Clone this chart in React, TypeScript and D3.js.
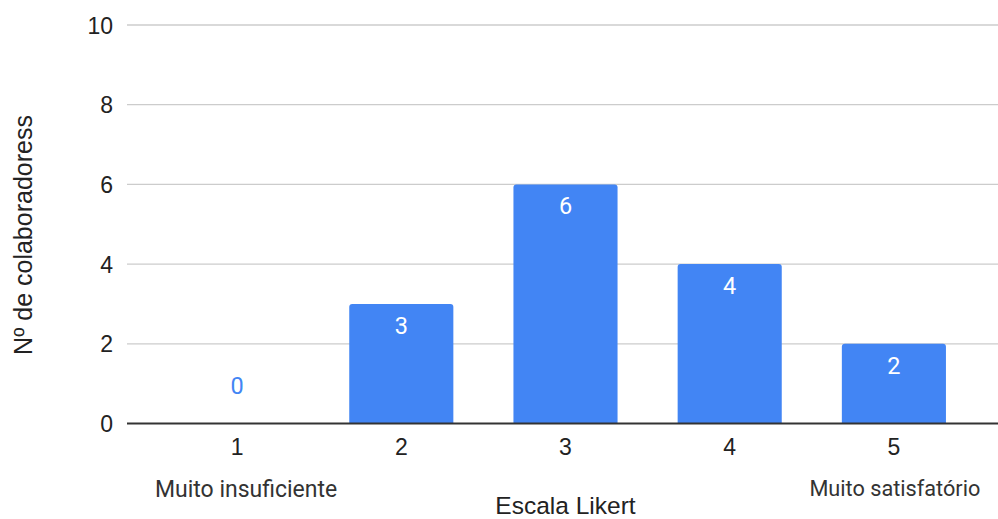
import React from "react";
import * as d3 from "d3";

const categories = ["1", "2", "3", "4", "5"];
const values = [0, 3, 6, 4, 2];
const yTicks = [0, 2, 4, 6, 8, 10];
const endLabels = ["Muito insuficiente", "Muito satisfatório"];
const xTitle = "Escala Likert";
const yTitle = "Nº de colaboradoress";

const W = 998;
const H = 519;
const BLUE = "#4285F4";
const AX = "'Liberation Sans', Arial, sans-serif";
const RB = "Roboto, 'Liberation Sans', Arial, sans-serif";

export default function App() {
  const x = d3
    .scaleBand<string>()
    .domain(categories)
    .range([155, 976])
    .paddingInner(0.366)
    .paddingOuter(0.183);
  const y = d3.scaleLinear().domain([0, 10]).range([423.5, 25]);
  const r = 3;

  const barPath = (c: string, v: number) => {
    const x0 = x(c)!;
    const x1 = x0 + x.bandwidth();
    const yt = y(v);
    const yb = y(0);
    return `M${x0},${yb}V${yt + r}Q${x0},${yt} ${x0 + r},${yt}H${x1 - r}Q${x1},${yt} ${x1},${yt + r}V${yb}Z`;
  };

  return (
    <svg
      width={W}
      height={H}
      style={{ position: "absolute", left: 0, top: 0, background: "#fff" }}
    >
      {yTicks
        .filter((t) => t > 0)
        .map((t) => (
          <line key={t} x1={127} x2={998} y1={y(t)} y2={y(t)} stroke="#cccccc" strokeWidth={1.3} />
        ))}
      {yTicks.map((t) => (
        <text
          key={"l" + t}
          x={113}
          y={y(t) + 8.5}
          textAnchor="end"
          fontFamily={AX}
          fontSize={23}
          fill="#222"
        >
          {t}
        </text>
      ))}
      {categories.map((c, i) =>
        values[i] > 0 ? <path key={"b" + c} d={barPath(c, values[i])} fill={BLUE} /> : null
      )}
      <line x1={127} x2={998} y1={y(0)} y2={y(0)} stroke="#333" strokeWidth={2} />
      {categories.map((c, i) => {
        const cx = x(c)! + x.bandwidth() / 2;
        const v = values[i];
        return (
          <text
            key={"v" + c}
            x={cx}
            y={v > 0 ? y(v) + 30 : y(0) - 29.5}
            textAnchor="middle"
            fontFamily={RB}
            fontSize={23.5}
            fill={v > 0 ? "#ffffff" : BLUE}
          >
            {v}
          </text>
        );
      })}
      {categories.map((c) => (
        <text
          key={"c" + c}
          x={x(c)! + x.bandwidth() / 2}
          y={y(0) + 31.5}
          textAnchor="middle"
          fontFamily={AX}
          fontSize={23}
          fill="#222"
        >
          {c}
        </text>
      ))}
      <text
        x={x(categories[0])! + x.bandwidth() / 2 + 9}
        y={497}
        textAnchor="middle"
        fontFamily={RB}
        fontSize={23}
        fill="#333"
      >
        {endLabels[0]}
      </text>
      <text
        x={x(categories[4])! + x.bandwidth() / 2 + 1}
        y={496}
        textAnchor="middle"
        fontFamily={RB}
        fontSize={21.7}
        fill="#333"
      >
        {endLabels[1]}
      </text>
      <text x={565.5} y={514} textAnchor="middle" fontFamily={AX} fontSize={24.5} fill="#222">
        {xTitle}
      </text>
      <text
        transform={`translate(32,235) rotate(-90)`}
        textAnchor="middle"
        fontFamily={AX}
        fontSize={25}
        fill="#222"
      >
        {yTitle}
      </text>
    </svg>
  );
}
